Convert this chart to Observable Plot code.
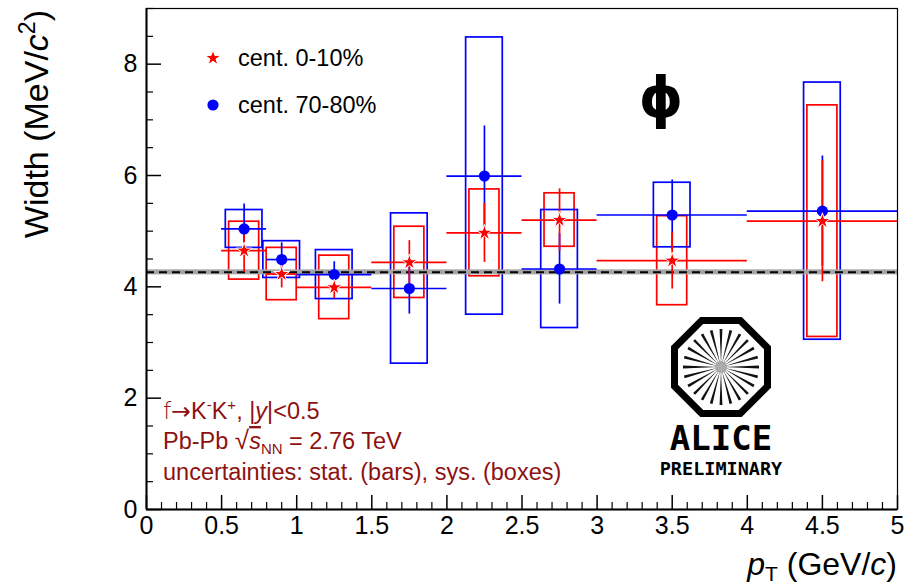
<!DOCTYPE html>
<html>
<head>
<meta charset="utf-8">
<script src="https://cdn.jsdelivr.net/npm/d3@7"></script>
<script src="https://cdn.jsdelivr.net/npm/@observablehq/plot@0.6"></script>
<style>
  html, body { margin: 0; padding: 0; background: #fff; }
  #chart svg { display: block; }
</style>
</head>
<body>
<div id="chart"></div>
<script>
// pT bins (GeV/c)
const binLow    = [0.5, 0.8, 1.0, 1.5, 2.0, 2.5, 3.0, 4.0];
const binHigh   = [0.8, 1.0, 1.5, 2.0, 2.5, 3.0, 4.0, 5.0];
const binCenter = [0.65, 0.9, 1.25, 1.75, 2.25, 2.75, 3.5, 4.5];

// phi width (MeV/c^2), centrality 0-10%
const width010 = [4.65, 4.23, 3.99, 4.44, 4.97, 5.20, 4.47, 5.18];
const stat010  = [0.39, 0.25, 0.20, 0.39, 0.53, 0.56, 0.51, 1.09];
const sys010   = [0.52, 0.47, 0.57, 0.64, 0.78, 0.48, 0.80, 2.08];

// phi width (MeV/c^2), centrality 70-80%
const width7080 = [5.04, 4.49, 4.22, 3.97, 5.99, 4.32, 5.29, 5.36];
const stat7080  = [0.45, 0.30, 0.23, 0.46, 0.90, 0.63, 0.63, 0.99];
const sys7080   = [0.34, 0.33, 0.44, 1.35, 2.49, 1.06, 0.58, 2.31];

// vacuum (PDG) width and its uncertainty
const pdgWidth = [4.26];
const pdgError = [0.045];

// axis ticks
const xTicks = [0, 0.5, 1, 1.5, 2, 2.5, 3, 3.5, 4, 4.5, 5];
const yTicks = [0, 2, 4, 6, 8];

const legendLabels = ["cent. 0-10%", "cent. 70-80%"];

// ---- layout / style ----
const W = 909, H = 587;
const mL = 146, mR = 12, mT = 8, mB = 78;
const frameW = W - mL - mR, frameH = H - mT - mB;
const RED = "#ff0000", BLUE = "#0000ff", NOTE = "#8e1111";
const FONT = "'Liberation Sans', Arial, Helvetica, sans-serif";

function table(values, stat, sys) {
  return binCenter.map((pt, i) => ({
    pt, lo: binLow[i], hi: binHigh[i], w: values[i], stat: stat[i], sys: sys[i]
  }));
}
const central = table(width010, stat010, sys010);
const peripheral = table(width7080, stat7080, sys7080);

const xMinor = d3.range(0, 51).map(i => i / 10).filter(v => !xTicks.some(t => Math.abs(t - v) < 1e-9));
const yMinor = d3.range(0, 19).map(i => i / 2).filter(v => !yTicks.includes(v));

const boxHalf = {central: 0.1, peripheral: 0.122};

const sysBoxes = (data, half, color) => Plot.rect(data, {
  x1: d => d.pt - half, x2: d => d.pt + half,
  y1: d => d.w - d.sys, y2: d => d.w + d.sys,
  fill: "none", stroke: color, strokeWidth: 1.7
});
const hBars = (data, color) => Plot.ruleY(data, {
  y: "w", x1: "lo", x2: "hi", stroke: color, strokeWidth: 1.7
});
const vBars = (data, color) => Plot.ruleX(data, {
  x: "pt", y1: d => d.w - d.stat, y2: d => d.w + d.stat, stroke: color, strokeWidth: 1.7
});

const chart = Plot.plot({
  width: W, height: H,
  marginLeft: mL, marginRight: mR, marginTop: mT, marginBottom: mB,
  style: {fontFamily: FONT, background: "#fff", color: "#000"},
  x: {domain: [0, 5]},
  y: {domain: [0, 9]},
  marks: [
    sysBoxes(central, boxHalf.central, RED),
    sysBoxes(peripheral, boxHalf.peripheral, BLUE),
    // vacuum width band and line
    Plot.rect(pdgWidth, {y1: (d, i) => d - pdgError[i], y2: (d, i) => d + pdgError[i], fill: "#a4a4a4"}),
    Plot.ruleY(pdgWidth, {stroke: "#000", strokeWidth: 2, strokeDasharray: "8,5"}),
    hBars(peripheral, BLUE),
    vBars(peripheral, BLUE),
    hBars(central, RED),
    vBars(central, RED),
    Plot.dot(peripheral, {x: "pt", y: "w", r: 5.6, fill: BLUE, stroke: "none"}),
    Plot.dot(central, {x: "pt", y: "w", r: 5, symbol: "star", fill: RED, stroke: "#fff", strokeWidth: 1}),
    // inward ticks
    Plot.tickX(xTicks, {x: d => d, insetTop: frameH - 14, stroke: "#000", strokeWidth: 1.5}),
    Plot.tickX(xMinor, {x: d => d, insetTop: frameH - 7, stroke: "#000", strokeWidth: 1.2}),
    Plot.tickY(yTicks, {y: d => d, insetRight: frameW - 15, stroke: "#000", strokeWidth: 1.5}),
    Plot.tickY(yMinor, {y: d => d, insetRight: frameW - 7, stroke: "#000", strokeWidth: 1.2}),
    Plot.axisX({ticks: xTicks, tickSize: 0, tickPadding: 7, fontSize: 25, label: null, tickFormat: d => String(d)}),
    Plot.axisY({ticks: yTicks, tickSize: 0, tickPadding: 9, fontSize: 25, label: null, tickFormat: d => String(d)}),
    Plot.frame({stroke: "#000", strokeWidth: 1.2}),
    Plot.ruleX([0], {stroke: "#000", strokeWidth: 2}),
    Plot.ruleY([0], {stroke: "#000", strokeWidth: 2})
  ]
});

document.getElementById("chart").appendChild(chart);
const svg = d3.select(chart);

// axis titles
const yTitle = svg.append("text")
  .attr("transform", "translate(48,10) rotate(-90)")
  .attr("text-anchor", "end")
  .attr("font-family", FONT).attr("font-size", 34).attr("fill", "#000");
yTitle.append("tspan").text("Width (MeV/");
yTitle.append("tspan").attr("font-style", "italic").text("c");
yTitle.append("tspan").attr("font-size", 23).attr("dy", -13).text("2");
yTitle.append("tspan").attr("dy", 13).text(")");

const xTitle = svg.append("text")
  .attr("x", W - mR).attr("y", 575)
  .attr("text-anchor", "end")
  .attr("font-family", FONT).attr("font-size", 32).attr("fill", "#000");
xTitle.append("tspan").attr("font-style", "italic").text("p");
xTitle.append("tspan").attr("font-size", 21).attr("dy", 6).text("T");
xTitle.append("tspan").attr("dy", -6).text(" (GeV/");
xTitle.append("tspan").attr("font-style", "italic").text("c");
xTitle.append("tspan").text(")");

// legend
const legend = svg.append("g").attr("font-family", FONT).attr("font-size", 23.5).attr("text-anchor", "start");
legend.append("path")
  .attr("transform", "translate(213,58)")
  .attr("d", d3.symbol(d3.symbolStar, Math.PI * 5 * 5)())
  .attr("fill", RED).attr("stroke", "#fff").attr("stroke-width", 1);
legend.append("circle").attr("cx", 213).attr("cy", 105).attr("r", 5.6).attr("fill", BLUE);
legend.append("text").attr("x", 238).attr("y", 66).text(legendLabels[0]);
legend.append("text").attr("x", 238).attr("y", 113).text(legendLabels[1]);

// particle symbol
svg.append("text")
  .attr("x", 661).attr("y", 117).attr("text-anchor", "middle")
  .attr("font-family", "'DejaVu Sans', sans-serif").attr("font-weight", "bold")
  .attr("font-size", 56).attr("fill", "#000").text("\u03D5");

// measurement notes
const notes = svg.append("g").attr("font-family", FONT).attr("font-size", 23.5).attr("fill", NOTE).attr("text-anchor", "start");
const l1 = notes.append("text").attr("x", 163).attr("y", 419);
l1.append("tspan").attr("font-family", "'DejaVu Sans', sans-serif").attr("font-weight", 200).text("f");
l1.append("tspan").attr("font-family", "'DejaVu Sans', sans-serif").text("\u2192");
l1.append("tspan").text("K");
l1.append("tspan").attr("font-size", 15).attr("dy", -9).text("-");
l1.append("tspan").attr("dy", 9).text("K");
l1.append("tspan").attr("font-size", 15).attr("dy", -9).text("+");
l1.append("tspan").attr("dy", 9).text(", |");
l1.append("tspan").attr("font-style", "italic").text("y");
l1.append("tspan").text("|<0.5");

const l2 = notes.append("text").attr("x", 163).attr("y", 449);
l2.append("tspan").text("Pb-Pb ");
l2.append("tspan").attr("font-family", "'DejaVu Sans', sans-serif").attr("font-weight", 200).attr("font-size", 26).text("\u221A");
l2.append("tspan").attr("font-style", "italic").attr("text-decoration", "overline").text("s");
l2.append("tspan").attr("font-size", 15).attr("dy", 5).text("NN");
l2.append("tspan").attr("dy", -5).text(" = 2.76 TeV");

notes.append("text").attr("x", 163).attr("y", 480).text("uncertainties: stat. (bars), sys. (boxes)");

// experiment logo: octagon with radial spokes
const logo = svg.append("g").attr("transform", "translate(721,367)");
const apothem = 46.5;
const R = apothem / Math.cos(Math.PI / 8);
const octagon = d3.range(8).map(k => {
  const a = Math.PI / 8 + k * Math.PI / 4;
  return [R * Math.cos(a), R * Math.sin(a)];
});
logo.append("path")
  .attr("d", "M" + octagon.map(p => p.join(",")).join("L") + "Z")
  .attr("fill", "#fff").attr("stroke", "#000").attr("stroke-width", 7).attr("stroke-linejoin", "miter");
const nSpokes = 24;
d3.range(nSpokes).forEach(k => {
  const a = k * 2 * Math.PI / nSpokes;
  const r0 = 3, r1 = 38, hw = 1.4;
  const c = Math.cos(a), s = Math.sin(a);
  const pts = [
    [r0 * c, r0 * s],
    [r1 * c - hw * s, r1 * s + hw * c],
    [r1 * c + hw * s, r1 * s - hw * c]
  ];
  logo.append("path").attr("d", "M" + pts.map(p => p.join(",")).join("L") + "Z").attr("fill", "#111");
});
logo.append("circle").attr("r", 6).attr("fill", "#999").attr("opacity", 0.8);

svg.append("text").attr("x", 721).attr("y", 450).attr("text-anchor", "middle")
  .attr("font-family", "'DejaVu Sans Mono', monospace").attr("font-weight", "bold")
  .attr("font-size", 34).attr("fill", "#000").text("ALICE");
svg.append("text").attr("x", 721).attr("y", 475).attr("text-anchor", "middle")
  .attr("font-family", "'DejaVu Sans Mono', monospace").attr("font-weight", "bold")
  .attr("font-size", 18.5).attr("fill", "#000").text("PRELIMINARY");
</script>
</body>
</html>
